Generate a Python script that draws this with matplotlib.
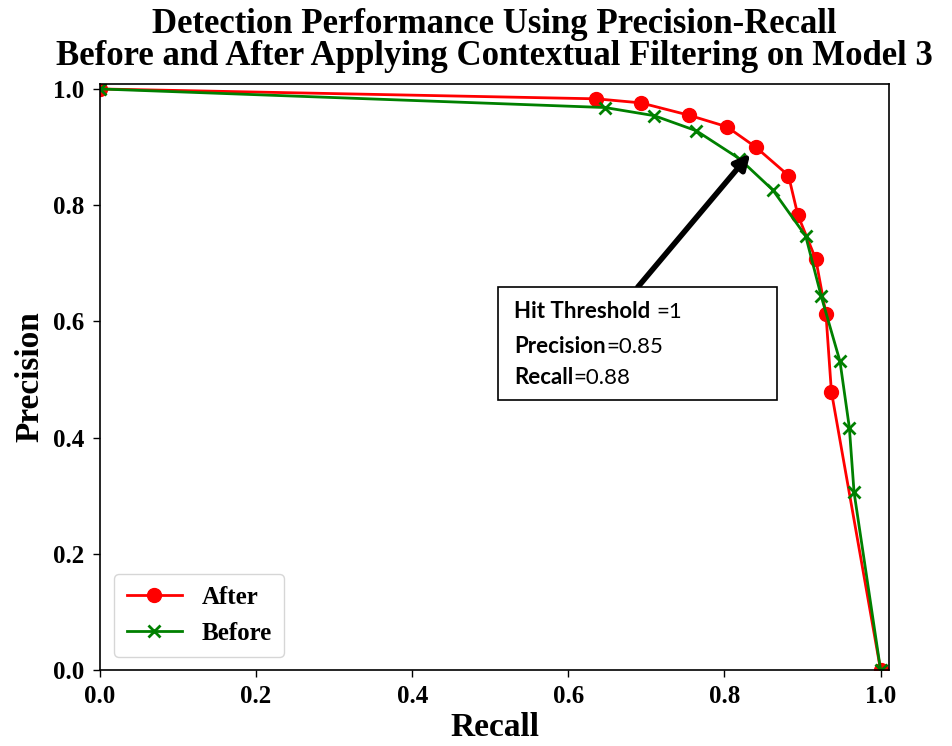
import matplotlib
matplotlib.use("Agg")
import matplotlib.pyplot as plt
from matplotlib.patches import Rectangle

# Data
recall_after = [0.0, 0.636, 0.693, 0.754, 0.803, 0.840, 0.882, 0.894, 0.917, 0.930, 0.937, 1.0]
precision_after = [1.0, 0.983, 0.976, 0.955, 0.935, 0.900, 0.851, 0.783, 0.707, 0.613, 0.479, 0.0]
recall_before = [0.0, 0.647, 0.710, 0.764, 0.819, 0.862, 0.904, 0.924, 0.948, 0.960, 0.966, 1.0]
precision_before = [1.0, 0.968, 0.954, 0.928, 0.880, 0.826, 0.747, 0.643, 0.531, 0.417, 0.306, 0.0]

title = "Detection Performance Using Precision-Recall\nBefore and After Applying Contextual Filtering on Model 3"
x_ticks = [0.0, 0.2, 0.4, 0.6, 0.8, 1.0]
y_ticks = [0.0, 0.2, 0.4, 0.6, 0.8, 1.0]
arrow_target = (0.840, 0.900)

serif = ["Liberation Serif", "DejaVu Serif"]
sans = ["Lato", "Open Sans", "DejaVu Sans"]

fig = plt.figure(figsize=(9.52, 7.46), dpi=100)
ax = fig.add_axes([0.105, 0.102, 0.829, 0.785])

ax.plot(recall_after, precision_after, color="red", marker="o", markersize=10,
        linewidth=2, label="After")
ax.plot(recall_before, precision_before, color="green", marker="x", markersize=9,
        markeredgewidth=2, linewidth=2, label="Before")

ax.set_xlim(0, 1.011)
ax.set_ylim(0, 1.008)
ax.set_xticks(x_ticks)
ax.set_yticks(y_ticks)
ax.set_xticklabels([f"{v:.1f}" for v in x_ticks], fontfamily=serif, fontweight="bold", fontsize=18)
ax.set_yticklabels([f"{v:.1f}" for v in y_ticks], fontfamily=serif, fontweight="bold", fontsize=18)
ax.tick_params(axis="x", length=5, width=1, pad=6)
ax.tick_params(axis="y", length=5, width=1, pad=6)
for s in ax.spines.values():
    s.set_linewidth(1.2)

ax.set_xlabel("Recall", fontfamily=serif, fontweight="bold", fontsize=24, labelpad=3)
ax.set_ylabel("Precision", fontfamily=serif, fontweight="bold", fontsize=24, labelpad=6)
ax.set_title(title, fontfamily=serif, fontweight="bold", fontsize=25, linespacing=0.95, pad=14)

leg = ax.legend(loc="lower left", prop={"family": serif, "weight": "bold", "size": 18},
                frameon=True, fancybox=True, borderpad=0.5, handlelength=2.2,
                borderaxespad=0, bbox_to_anchor=(0.018, 0.022))

# Annotation box
box_x0, box_y0, box_x1, box_y1 = 0.510, 0.465, 0.867, 0.659
ax.add_patch(Rectangle((box_x0, box_y0), box_x1 - box_x0, box_y1 - box_y0,
                       facecolor="white", edgecolor="black", linewidth=1.2, zorder=5))
ax.annotate("", xy=arrow_target, xytext=(0.689, 0.659),
            arrowprops=dict(arrowstyle="-|>,head_length=0.9,head_width=0.45",
                            color="black", lw=4, shrinkA=0, shrinkB=6), zorder=4)

lines = [("Hit Threshold ", "=1", 0.606), ("Precision", "=0.85", 0.546), ("Recall", "=0.88", 0.492)]
for bold, reg, yy in lines:
    t = ax.text(0.531, yy, bold, fontfamily=sans, fontweight="bold", fontsize=16,
                va="baseline", ha="left", zorder=6)
    ax.annotate(reg, xy=(1, 0), xycoords=t, va="bottom", ha="left",
                fontfamily=sans, fontsize=16, zorder=6)

fig.savefig("out.png", dpi=100)
